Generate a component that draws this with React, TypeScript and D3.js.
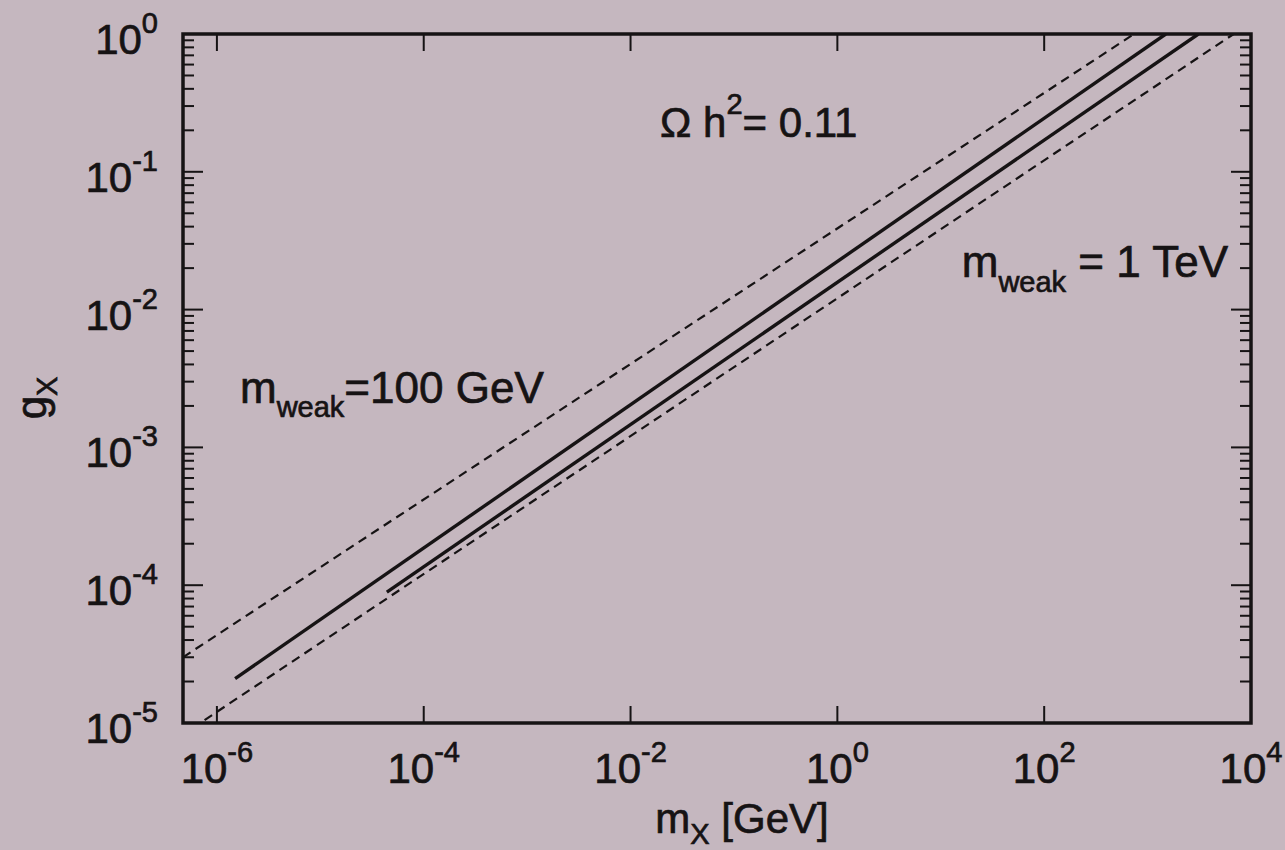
import React from "react";
import * as d3 from "d3";

// ---- data ----
const xDomain: [number, number] = [4.7e-7, 1e4];
const yDomain: [number, number] = [1e-5, 1];
const xTickExps = [-6, -4, -2, 0, 2, 4];
const yTickExps = [0, -1, -2, -3, -4, -5];

// each curve: endpoints [m_X, g_X]
const upperDashed: [number, number][] = [[4.7e-7, 3.0e-5], [7.4e2, 1]];
const upperSolid: [number, number][] = [[1.5e-6, 2.1e-5], [1.5e3, 1]];
const lowerSolid: [number, number][] = [[4.4e-5, 8.9e-5], [3.1e3, 1]];
const lowerDashed: [number, number][] = [[7.6e-7, 1.05e-5], [6.8e3, 1]];

const curves = [
  { name: "upperDashed", pts: upperDashed, dashed: true },
  { name: "upperSolid", pts: upperSolid, dashed: false },
  { name: "lowerSolid", pts: lowerSolid, dashed: false },
  { name: "lowerDashed", pts: lowerDashed, dashed: true },
];

const W = 1285;
const H = 850;
const left = 183, right = 1251, top = 34, bottom = 723;
const ink = "#161314";
const bg = "#c5b7bf";
const font = "'Liberation Sans', Arial, Helvetica, sans-serif";
const textStroke = { stroke: ink, strokeWidth: 0.7 };

export default function App() {
  const x = d3.scaleLog().domain(xDomain).range([left, right]);
  const y = d3.scaleLog().domain(yDomain).range([bottom, top]);
  const line = d3
    .line<[number, number]>()
    .x((d) => x(d[0]))
    .y((d) => y(d[1]));

  const minorY: number[] = [];
  for (let e = -5; e < 0; e++) {
    for (let k = 2; k <= 9; k++) minorY.push(k * Math.pow(10, e));
  }

  const supLabel = (e: number) => (e < 0 ? "-" + Math.abs(e) : String(e));

  return (
    <svg
      width={W}
      height={H}
      style={{ position: "absolute", left: 0, top: 0, background: bg }}
      fontFamily={font}
    >
      <rect x={0} y={0} width={W} height={H} fill={bg} />
      <defs>
        <clipPath id="plotclip">
          <rect x={left} y={top} width={right - left} height={bottom - top} />
        </clipPath>
      </defs>

      {/* curves */}
      <g clipPath="url(#plotclip)">
        {curves.map((c) => (
          <path
            key={c.name}
            d={line(c.pts) || ""}
            fill="none"
            stroke={ink}
            strokeWidth={c.dashed ? 2.2 : 3.4}
            strokeDasharray={c.dashed ? "9,6" : undefined}
          />
        ))}
      </g>

      {/* x ticks (bottom and top) */}
      {xTickExps.slice(0, 5).map((e) => {
        const px = x(Math.pow(10, e));
        return (
          <g key={"xt" + e}>
            <line x1={px} x2={px} y1={bottom} y2={bottom - 17} stroke={ink} strokeWidth={2} />
            <line x1={px} x2={px} y1={top} y2={top + 17} stroke={ink} strokeWidth={2} />
          </g>
        );
      })}

      {/* y ticks (left and right) */}
      {yTickExps.map((e) => {
        const py = y(Math.pow(10, e));
        return (
          <g key={"yt" + e}>
            <line x1={left} x2={left + 20} y1={py} y2={py} stroke={ink} strokeWidth={2} />
            <line x1={right} x2={right - 20} y1={py} y2={py} stroke={ink} strokeWidth={2} />
          </g>
        );
      })}
      {minorY.map((v, i) => {
        const py = y(v);
        return (
          <g key={"ym" + i}>
            <line x1={left} x2={left + 11} y1={py} y2={py} stroke={ink} strokeWidth={2} />
            <line x1={right} x2={right - 11} y1={py} y2={py} stroke={ink} strokeWidth={2} />
          </g>
        );
      })}

      {/* frame */}
      <rect
        x={left}
        y={top}
        width={right - left}
        height={bottom - top}
        fill="none"
        stroke={ink}
        strokeWidth={3.5}
      />

      {/* x tick labels */}
      {xTickExps.map((e) => {
        const px = x(Math.pow(10, e));
        return (
          <text key={"xl" + e} x={px} y={783} textAnchor="middle" fill={ink} fontSize={42} {...textStroke}>
            10
            <tspan fontSize={29} dy={-21}>
              {supLabel(e)}
            </tspan>
          </text>
        );
      })}

      {/* y tick labels */}
      {yTickExps.map((e) => {
        const py = y(Math.pow(10, e));
        return (
          <text key={"yl" + e} x={158} y={py + 20} textAnchor="end" fill={ink} fontSize={42} {...textStroke}>
            10
            <tspan fontSize={29} dy={-21}>
              {supLabel(e)}
            </tspan>
          </text>
        );
      })}

      {/* axis titles */}
      <text x={742} y={833} textAnchor="middle" fill={ink} fontSize={42} {...textStroke}>
        m
        <tspan fontSize={29} dy={11}>X</tspan>
        <tspan dy={-11}> [GeV]</tspan>
      </text>
      <text
        transform="translate(46,398) rotate(-90)"
        textAnchor="middle"
        fill={ink}
        fontSize={42}
        {...textStroke}
      >
        g
        <tspan fontSize={29} dy={11}>X</tspan>
      </text>

      {/* annotations */}
      <text x={660} y={137} fill={ink} fontSize={42} {...textStroke}>
        Ω h
        <tspan fontSize={29} dy={-23}>2</tspan>
        <tspan dy={23}>= 0.11</tspan>
      </text>
      <text x={240} y={403} fill={ink} fontSize={44} {...textStroke}>
        m
        <tspan fontSize={29} dy={14}>weak</tspan>
        <tspan dy={-14}>=100 GeV</tspan>
      </text>
      <text x={1228} y={277} textAnchor="end" fill={ink} fontSize={44} {...textStroke}>
        m
        <tspan fontSize={29} dy={15}>weak</tspan>
        <tspan dy={-15}> = 1 TeV</tspan>
      </text>
    </svg>
  );
}
